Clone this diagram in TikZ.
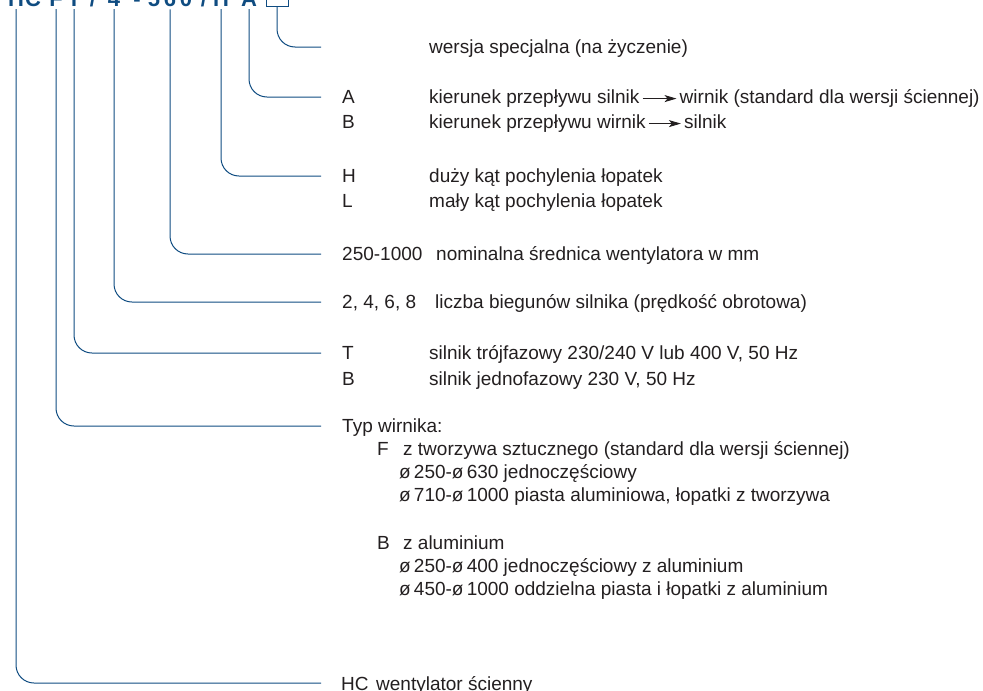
\documentclass[tikz,border=0pt]{standalone}
\usepackage{fontspec}
\setmainfont{Liberation Sans}
\usetikzlibrary{arrows.meta, positioning}
\definecolor{leadblue}{HTML}{0F4C81}
\definecolor{txtgray}{HTML}{231F20}
\tikzset{
    leader/.style={draw=leadblue, line width=1pt, rounded corners=18pt, shorten <=3pt},
    code/.style={text=leadblue, font=\fontsize{22}{22}\selectfont\bfseries, inner sep=0pt, anchor=base},
    desc/.style={text=txtgray, font=\fontsize{19}{22}\selectfont, inner sep=0pt, anchor=base west},
    flow/.style={-{Stealth[length=12pt, width=7pt, inset=3pt]}, draw=txtgray, line width=0.9pt, shorten <=3pt, shorten >=3pt}
}

\begin{document}
\begin{tikzpicture}[x=1pt, y=-1pt]
    \useasboundingbox (0,0) rectangle (983,691);
    % Type code, cut off by the top edge
    \node[code] (kHC) at (16,6) {H};
    \node[code] (kC) at (33,6) {C};
    \node[code] (kF) at (56,6) {F};
    \node[code] (kT) at (74,6) {T};
    \node[code] (kS1) at (93,6) {/};
    \node[code] (k4) at (114,6) {4};
    \node[code] (kD) at (137,6) {-};
    \node[code] (k5) at (154,6) {5};
    \node[code] (k6) at (170,6) {6};
    \node[code] (k0) at (186,6) {0};
    \node[code] (kS2) at (204,6) {/};
    \node[code] (kH) at (221,6) {H};
    \node[code] (kA) at (249,6) {A};
    \node[draw=leadblue, line width=1pt, minimum size=22pt, inner sep=0pt] (kX) at (277,-5) {};
    % Ends of the leaders
    \coordinate (eX) at (321,47);
    \coordinate (eA) at (321,97);
    \coordinate (eH) at (321,176);
    \coordinate (e6) at (321,254);
    \coordinate (e4) at (321,302);
    \coordinate (eT) at (321,353);
    \coordinate (eF) at (321,426);
    \coordinate (eHC) at (321,683);
    % Leaders
    \draw[leader, shorten <=0pt] (kX.south) |- (eX);
    \draw[leader] (kA.south) |- (eA);
    \draw[leader] (kH.south) |- (eH);
    \draw[leader] (k6.south) |- (e6);
    \draw[leader] (k4.south) |- (e4);
    \draw[leader] (kT.south) |- (eT);
    \draw[leader] (kF.south) |- (eF);
    \draw[leader] (kHC.south) |- (eHC);
    % Special version
    \node[desc] (dX) at (429,53.5) {wersja specjalna (na życzenie)};
    % Flow direction
    \node[desc] (lA) at (342,103.5) {A};
    \node[desc] (dA1) at (429,103.5) {kierunek przepływu silnik};
    \node[desc, right=40pt of dA1.base east, anchor=base west] (dA2) {wirnik (standard dla wersji ściennej)};
    \draw[flow] (dA1.east) -- (dA1.east -| dA2.west);
    \node[desc] (lB) at (342,128.5) {B};
    \node[desc] (dB1) at (429,128.5) {kierunek przepływu wirnik};
    \node[desc, right=38pt of dB1.base east, anchor=base west] (dB2) {silnik};
    \draw[flow] (dB1.east) -- (dB1.east -| dB2.west);
    % Blade angle
    \node[desc] (lH) at (342,182.5) {H};
    \node[desc] (dH) at (429,182.5) {duży kąt pochylenia łopatek};
    \node[desc] (lL) at (342,207) {L};
    \node[desc] (dL) at (429,207) {mały kąt pochylenia łopatek};
    % Diameter and poles
    \node[desc] (lDia) at (342,260.5) {250-1000};
    \node[desc] (dDia) at (436,260.5) {nominalna średnica wentylatora w mm};
    \node[desc] (lPol) at (342,308.5) {2, 4, 6, 8};
    \node[desc] (dPol) at (435,308.5) {liczba biegunów silnika (prędkość obrotowa)};
    % Motor
    \node[desc] (lT) at (342,359.5) {T};
    \node[desc] (dT) at (429,359.5) {silnik trójfazowy 230/240 V lub 400 V, 50 Hz};
    \node[desc] (lM) at (342,385) {B};
    \node[desc] (dM) at (429,385) {silnik jednofazowy 230 V, 50 Hz};
    % Impeller
    \node[desc] (lTyp) at (342,432.5) {Typ wirnika:};
    \node[desc] (lF) at (377,455.5) {F};
    \node[desc] (dF) at (403,455.5) {z tworzywa sztucznego (standard dla wersji ściennej)};
    \node[desc] (dF1) at (399,478.5) {ø\,250-ø\,630 jednoczęściowy};
    \node[desc] (dF2) at (399,501.5) {ø\,710-ø\,1000 piasta aluminiowa, łopatki z tworzywa};
    \node[desc] (lAl) at (377,549.5) {B};
    \node[desc] (dAl) at (403,549.5) {z aluminium};
    \node[desc] (dAl1) at (399,572.5) {ø\,250-ø\,400 jednoczęściowy z aluminium};
    \node[desc] (dAl2) at (399,595.5) {ø\,450-ø\,1000 oddzielna piasta i łopatki z aluminium};
    % Fan type
    \node[desc] (lHC) at (341,690) {HC};
    \node[desc] (dHC) at (376,690) {wentylator ścienny};
\end{tikzpicture}
\end{document}
